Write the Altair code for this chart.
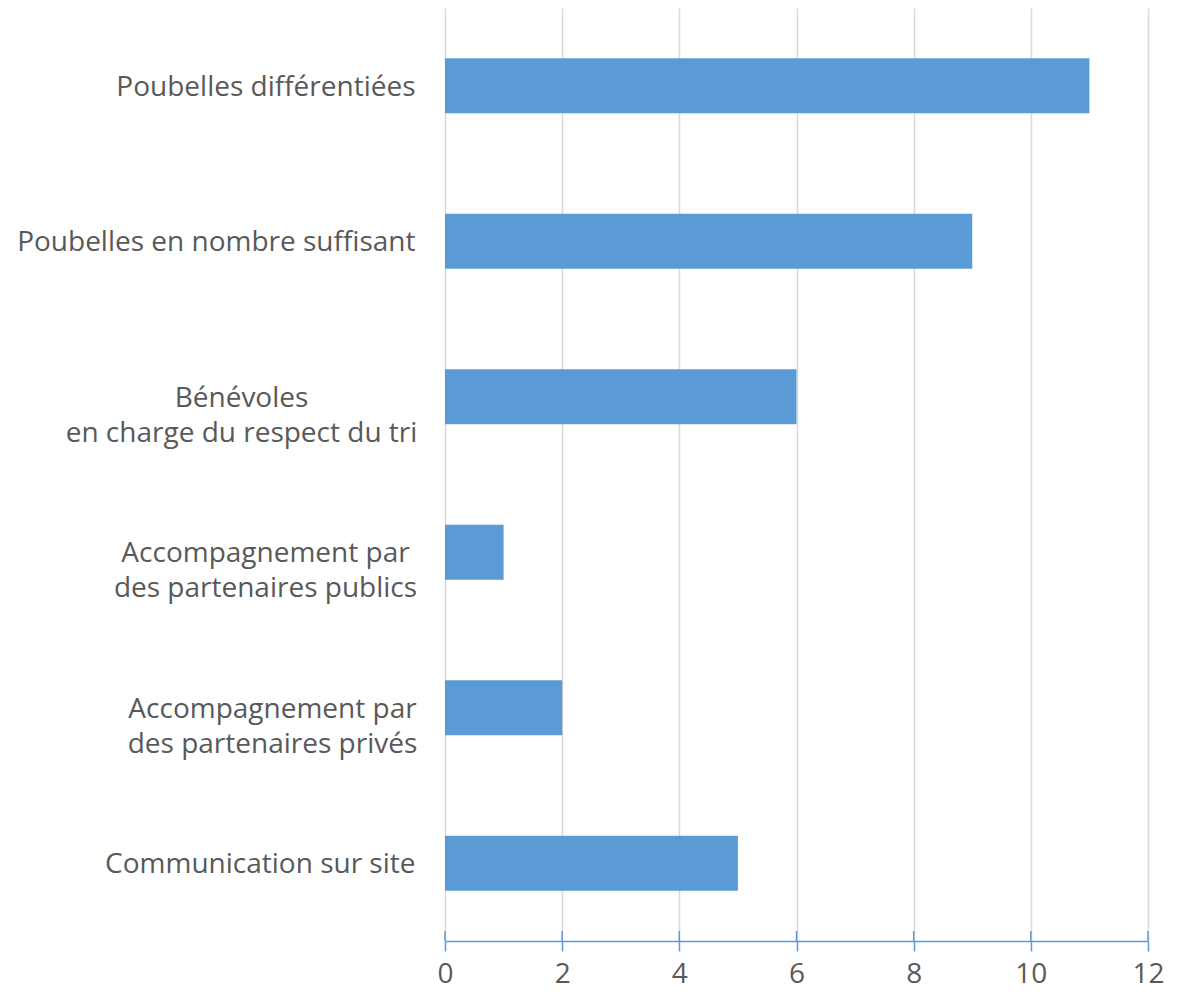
import altair as alt
import pandas as pd

categories = [
    "Poubelles différentiées",
    "Poubelles en nombre suffisant",
    "Bénévoles|en charge du respect du tri",
    "Accompagnement par |des partenaires publics",
    "Accompagnement par|des partenaires privés",
    "Communication sur site",
]
values = [11, 9, 6, 1, 2, 5]
ticks = [0, 2, 4, 6, 8, 10, 12]

df = pd.DataFrame({"cat": categories, "val": values})
tdf = pd.DataFrame({"t": ticks})

W, H = 703, 933
FONT = "Open Sans"
FS = 28
TXT = "#595959"
BLUE = "#5B9BD5"

xscale = alt.Scale(domain=[0, 12], nice=False)

label_align = {
    "condition": {"test": "indexof(datum.value, '|') >= 0", "value": "center"},
    "value": "right",
}
label_pad = {
    "condition": [
        {"test": "indexof(datum.value, 'Bénévoles') >= 0", "value": 204},
        {"test": "indexof(datum.value, 'publics') >= 0", "value": 180},
        {"test": "indexof(datum.value, 'privés') >= 0", "value": 173},
    ],
    "value": 30,
}

bars = alt.Chart(df).mark_bar(color=BLUE).encode(
    x=alt.X("val:Q", scale=xscale,
            axis=alt.Axis(values=ticks, format="d", title=None, grid=True,
                          gridColor="#D9D9D9", gridWidth=1.5,
                          domainColor=BLUE, domainWidth=1.5,
                          tickColor=BLUE, tickWidth=1.5, tickSize=10,
                          labelFont=FONT, labelFontSize=FS, labelColor=TXT,
                          labelFlush=False, labelPadding=9)),
    y=alt.Y("cat:N", sort=categories,
            scale=alt.Scale(paddingInner=0.646, paddingOuter=0.323),
            axis=alt.Axis(title=None, ticks=False, domain=False,
                          labelExpr="split(datum.label, '|')",
                          labelAlign=label_align, labelPadding=label_pad,
                          labelOffset=2,
                          labelFont=FONT, labelFontSize=FS, labelColor=TXT,
                          labelLineHeight=35, labelLimit=600)),
)

tick_up = alt.Chart(tdf).mark_rule(color=BLUE, strokeWidth=1.5).encode(
    x=alt.X("t:Q", scale=xscale),
    y=alt.value(H - 10),
    y2=alt.value(H),
)

chart = alt.layer(bars, tick_up).properties(
    width=W, height=H,
    autosize=alt.AutoSizeParams(type="none"),
    padding={"left": 437, "top": 0, "right": 30, "bottom": 54},
).configure_view(stroke=None)

chart.save("out.html", embed_options={"renderer": "svg", "actions": False})
